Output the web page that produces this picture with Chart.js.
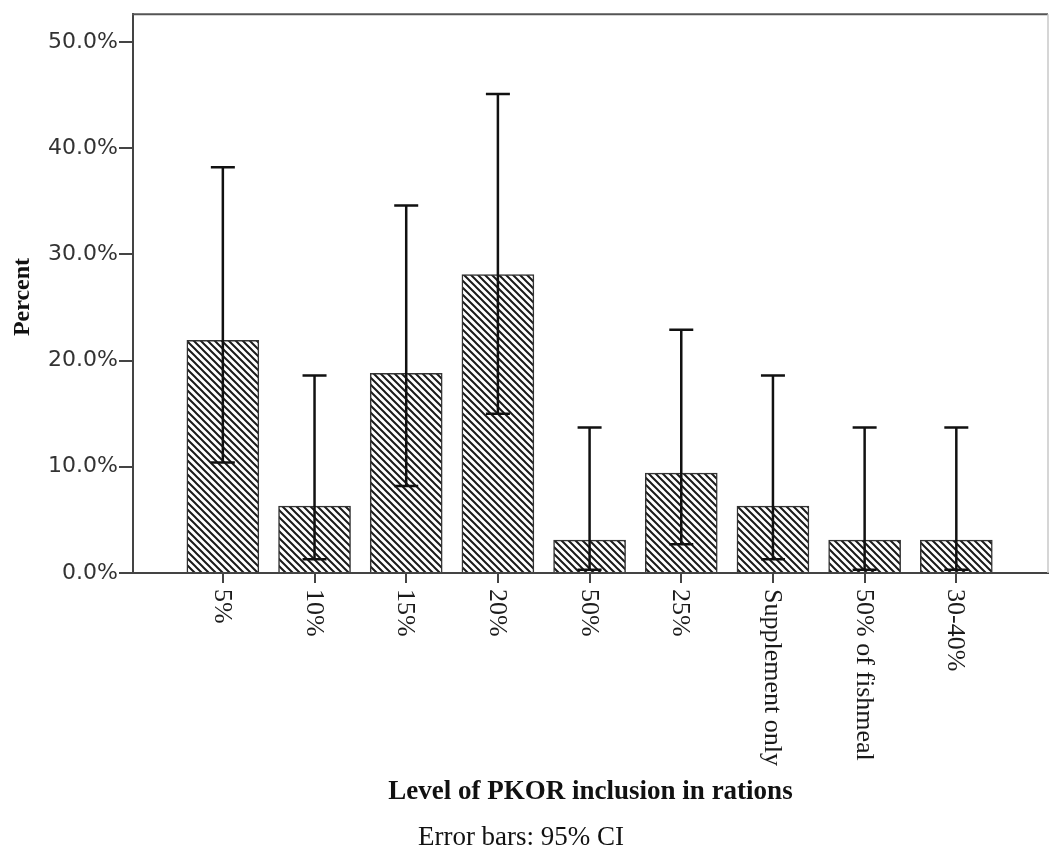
<!DOCTYPE html>
<html>
<head>
<meta charset="utf-8">
<script src="https://cdn.jsdelivr.net/npm/chart.js@4/dist/chart.umd.min.js"></script>
<style>
  html, body { margin: 0; padding: 0; background: #fff; }
  #wrap { width: 1049px; height: 852px; position: relative; }
</style>
</head>
<body>
<div id="wrap"><canvas id="c"></canvas></div>
<script>
const categories = ['5%', '10%', '15%', '20%', '50%', '25%', 'Supplement only', '50% of fishmeal', '30-40%'];
const percentValues = [21.9, 6.3, 18.8, 28.1, 3.1, 9.4, 6.3, 3.1, 3.1];
const ciLower = [10.4, 1.3, 8.2, 15.0, 0.3, 2.7, 1.3, 0.3, 0.3];
const ciUpper = [38.2, 18.6, 34.6, 45.1, 13.7, 22.9, 18.6, 13.7, 13.7];
const yTickValues = [0, 10, 20, 30, 40, 50];
const xAxisTitle = 'Level of PKOR inclusion in rations';
const yAxisTitle = 'Percent';
const footnote = 'Error bars: 95% CI';

function makeHatch(ctx) {
  const s = 7;
  const c = document.createElement('canvas');
  c.width = s; c.height = s;
  const g = c.getContext('2d');
  g.fillStyle = '#fff';
  g.fillRect(0, 0, s, s);
  g.strokeStyle = '#1a1a1a';
  g.lineWidth = 2;
  g.beginPath();
  g.moveTo(-2, -2); g.lineTo(s + 2, s + 2);
  g.moveTo(s - 2, -2); g.lineTo(s + 2, 2);
  g.moveTo(-2, s - 2); g.lineTo(2, s + 2);
  g.stroke();
  return ctx.createPattern(c, 'repeat');
}

const canvas = document.getElementById('c');
const hatch = makeHatch(canvas.getContext('2d'));

const errorBars = {
  id: 'errorBars',
  afterDatasetsDraw(chart) {
    const { ctx, scales: { x, y } } = chart;
    ctx.save();
    ctx.strokeStyle = '#111';
    ctx.lineCap = 'butt';
    categories.forEach((_, i) => {
      const px = x.getPixelForValue(i);
      const yu = y.getPixelForValue(ciUpper[i]);
      const yl = y.getPixelForValue(ciLower[i]);
      ctx.lineWidth = 2.5;
      ctx.beginPath();
      ctx.moveTo(px, yu); ctx.lineTo(px, yl);
      ctx.stroke();
      ctx.beginPath();
      ctx.moveTo(px - 12, yu); ctx.lineTo(px + 12, yu);
      ctx.moveTo(px - 12, yl); ctx.lineTo(px + 12, yl);
      ctx.stroke();
    });
    ctx.restore();
  }
};

const decorations = {
  id: 'decorations',
  afterDraw(chart) {
    const { ctx, chartArea: a, scales: { x } } = chart;
    ctx.save();
    ctx.strokeStyle = '#555';
    ctx.lineWidth = 2;
    ctx.beginPath();
    ctx.moveTo(a.left - 1, a.top); ctx.lineTo(a.right, a.top);
    ctx.stroke();
    ctx.strokeStyle = '#c8c8c8';
    ctx.lineWidth = 1.5;
    ctx.beginPath();
    ctx.moveTo(a.right, a.top); ctx.lineTo(a.right, a.bottom);
    ctx.stroke();

    ctx.fillStyle = '#1a1a1a';
    ctx.font = '26px "Liberation Serif", serif';
    ctx.textAlign = 'left';
    ctx.textBaseline = 'middle';
    categories.forEach((lab, i) => {
      const px = x.getPixelForValue(i);
      ctx.save();
      ctx.translate(px - 1, a.bottom + 16);
      ctx.rotate(Math.PI / 2);
      ctx.fillText(lab, 0, 0);
      ctx.restore();
    });

    ctx.fillStyle = '#111';
    ctx.textAlign = 'center';
    ctx.font = 'bold 27px "Liberation Serif", serif';
    ctx.fillText(xAxisTitle, (a.left + a.right) / 2, 792);

    ctx.font = '27px "Liberation Serif", serif';
    ctx.fillText(footnote, 521, 838);

    ctx.save();
    ctx.translate(23, 297);
    ctx.rotate(-Math.PI / 2);
    ctx.font = 'bold 24px "Liberation Serif", serif';
    ctx.fillText(yAxisTitle, 0, 0);
    ctx.restore();
    ctx.restore();
  }
};

new Chart(canvas, {
  type: 'bar',
  data: {
    datasets: [{
      data: percentValues.map((v, i) => ({ x: i, y: v })),
      backgroundColor: hatch,
      borderColor: '#333',
      borderWidth: 1.5,
      borderSkipped: 'start',
      barThickness: 72
    }]
  },
  options: {
    responsive: true,
    maintainAspectRatio: false,
    animation: false,
    layout: { padding: { top: 13, right: 1, left: 0, bottom: 0 } },
    plugins: { legend: { display: false }, tooltip: { enabled: false } },
    scales: {
      x: {
        type: 'linear',
        offset: false,
        min: -0.98,
        max: 9.0,
        afterBuildTicks(scale) { scale.ticks = categories.map((c, i) => ({ value: i })); },
        afterFit(scale) { scale.height = 852 - 573; },
        ticks: { display: false },
        grid: { display: true, offset: false, drawOnChartArea: false, drawTicks: true, tickLength: 10, color: '#444', lineWidth: 2 },
        border: { display: true, color: '#444', width: 2 }
      },
      y: {
        min: 0,
        max: 52.6,
        afterBuildTicks(scale) { scale.ticks = yTickValues.map(v => ({ value: v })); },
        afterFit(scale) { scale.width = 133; },
        ticks: {
          callback: v => Number(v).toFixed(1) + '%',
          font: { family: '"DejaVu Sans", sans-serif', size: 22 },
          color: '#333',
          padding: 1
        },
        grid: { display: true, drawOnChartArea: false, drawTicks: true, tickLength: 14, color: '#444', lineWidth: 2 },
        border: { display: true, color: '#444', width: 2 }
      }
    }
  },
  plugins: [errorBars, decorations]
});
</script>
</body>
</html>
